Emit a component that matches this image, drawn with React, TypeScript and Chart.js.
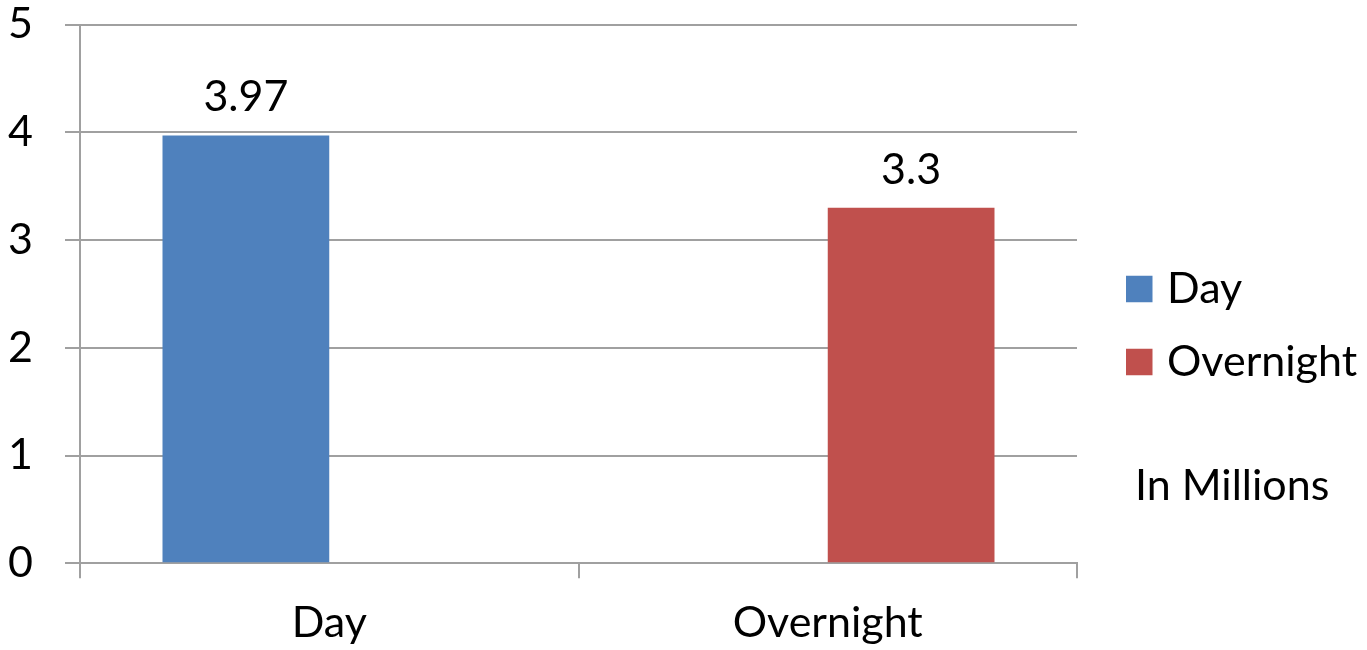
import React, { useEffect, useRef } from "react";
import { Chart, registerables } from "chart.js";

Chart.register(...registerables);

// Categories, series and axis ticks
const categories = ["Day", "Overnight"];
const seriesNames = ["Day", "Overnight"];
const dayValues: (number | null)[] = [3.97, null];
const overnightValues: (number | null)[] = [null, 3.3];
const yTicks = [0, 1, 2, 3, 4, 5];
const unitNote = "In Millions";

const seriesColors = ["#4F81BD", "#C0504D"];
const GRID = "#a0a0a0";
const FONT_FAMILY = "Lato, 'Open Sans', sans-serif";
const FONT_SIZE = 43;

// Value labels above each bar
const valueLabels = {
  id: "valueLabels",
  afterDatasetsDraw(chart: any) {
    const ctx = chart.ctx;
    ctx.save();
    ctx.font = `${FONT_SIZE}px ${FONT_FAMILY}`;
    ctx.fillStyle = "#000";
    ctx.textAlign = "center";
    ctx.textBaseline = "alphabetic";
    chart.data.datasets.forEach((ds: any, di: number) => {
      const meta = chart.getDatasetMeta(di);
      meta.data.forEach((el: any, i: number) => {
        const v = ds.data[i];
        if (v === null || v === undefined) return;
        ctx.fillText(String(v), el.x, el.y - 24);
      });
    });
    ctx.restore();
  },
};

// Legend on the right with the unit note beneath it
const sideLegend = {
  id: "sideLegend",
  afterDraw(chart: any) {
    const ctx = chart.ctx;
    const right = chart.chartArea.right;
    const box = 26.5;
    ctx.save();
    ctx.font = `${FONT_SIZE}px ${FONT_FAMILY}`;
    ctx.textBaseline = "middle";
    ctx.textAlign = "left";
    chart.data.datasets.forEach((ds: any, i: number) => {
      const cy = 289 + i * 73;
      ctx.fillStyle = ds.backgroundColor;
      ctx.fillRect(right + 49, cy - box / 2, box, box);
      ctx.fillStyle = "#000";
      ctx.fillText(ds.label, right + 90, cy);
    });
    ctx.fillStyle = "#000";
    ctx.fillText(unitNote, right + 58, 486);
    ctx.restore();
  },
};

export default function App() {
  const canvasRef = useRef<HTMLCanvasElement | null>(null);

  useEffect(() => {
    document.body.style.margin = "0";
    const canvas = canvasRef.current;
    if (!canvas) return;
    const chart = new Chart(canvas, {
      type: "bar",
      data: {
        labels: categories,
        datasets: [
          {
            label: seriesNames[0],
            data: dayValues,
            backgroundColor: seriesColors[0],
            borderWidth: 0,
            categoryPercentage: 0.669,
            barPercentage: 1,
          },
          {
            label: seriesNames[1],
            data: overnightValues,
            backgroundColor: seriesColors[1],
            borderWidth: 0,
            categoryPercentage: 0.669,
            barPercentage: 1,
          },
        ],
      },
      options: {
        animation: false,
        responsive: true,
        maintainAspectRatio: false,
        layout: { padding: { top: 24.5, right: 290, bottom: 0, left: 0 } },
        plugins: {
          legend: { display: false },
          tooltip: { enabled: false },
        },
        scales: {
          x: {
            grid: {
              offset: true,
              drawOnChartArea: false,
              drawTicks: true,
              tickLength: 15,
              color: GRID,
              lineWidth: 2,
            },
            border: { display: true, color: GRID, width: 2 },
            ticks: {
              color: "#000",
              font: { family: FONT_FAMILY, size: FONT_SIZE },
              padding: 19,
              maxRotation: 0,
              autoSkip: false,
            },
            afterFit: (s: any) => {
              s.height = 86.7;
              s.paddingLeft = 0;
              s.paddingRight = 0;
            },
          },
          y: {
            min: 0,
            max: 5,
            afterBuildTicks: (s: any) => {
              s.ticks = yTicks.map((v) => ({ value: v }));
            },
            ticks: {
              color: "#000",
              font: { family: FONT_FAMILY, size: FONT_SIZE },
              padding: 32,
            },
            grid: {
              color: GRID,
              lineWidth: 2,
              drawTicks: true,
              tickLength: 15,
            },
            border: { display: true, color: GRID, width: 2 },
            afterFit: (s: any) => {
              s.width = 80;
              s.paddingTop = 0;
              s.paddingBottom = 0;
            },
          },
        },
      },
      plugins: [valueLabels, sideLegend],
    });
    return () => chart.destroy();
  }, []);

  return (
    <div style={{ position: "relative", width: 1367, height: 650, background: "#fff" }}>
      <canvas ref={canvasRef} />
    </div>
  );
}
